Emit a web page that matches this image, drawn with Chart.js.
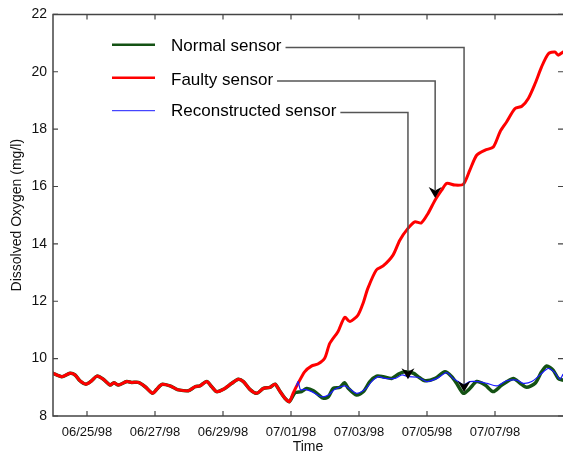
<!DOCTYPE html>
<html>
<head>
<meta charset="utf-8">
<script src="https://cdn.jsdelivr.net/npm/chart.js@4.4.1/dist/chart.umd.min.js"></script>
<style>
  html, body { margin: 0; padding: 0; background: #fff; }
  #wrap { width: 563px; height: 453px; }
</style>
</head>
<body>
<div id="wrap"><canvas id="doChart" width="563" height="453"></canvas></div>
<script>
// --- Data (time in days since 06/24/98 00:00, DO in mg/l) ---

// all three sensors agree before the fault appears
const preDays = [0, 0.26, 0.50, 0.65, 0.79, 0.97, 1.14, 1.29, 1.48, 1.68, 1.79, 1.92, 2.17, 2.31, 2.51, 2.71, 2.93, 3.05, 3.20, 3.44,
    3.59, 3.69, 3.98, 4.18, 4.32, 4.52, 4.67, 4.81, 5.01, 5.26, 5.45, 5.60, 5.79, 5.99, 6.19, 6.38, 6.53, 6.68, 6.82, 6.95];
const preDO = [9.49, 9.37, 9.49, 9.43, 9.23, 9.11, 9.23, 9.39, 9.28, 9.08, 9.16, 9.08, 9.20, 9.17, 9.17, 9.02, 8.79, 8.93, 9.10, 9.05,
    8.96, 8.91, 8.88, 9.02, 9.05, 9.20, 9.02, 8.85, 8.93, 9.14, 9.28, 9.20, 8.93, 8.79, 8.96, 9.00, 9.11, 8.85, 8.62, 8.50];

// faulty sensor drifting upward
const faultDays = [7.06, 7.21, 7.40, 7.60, 7.79, 7.99, 8.14, 8.38, 8.58, 8.73, 8.97, 9.12, 9.26, 9.51, 9.71, 10.00, 10.20, 10.44, 10.64, 10.83,
    11.03, 11.24, 11.43, 11.58, 11.82, 12.07, 12.26, 12.46, 12.71, 12.95, 13.15, 13.34, 13.59, 13.79, 13.98, 14.18, 14.37, 14.57, 14.76, 14.86, 15.0];
const faultDO = [8.79, 9.14, 9.54, 9.74, 9.81, 10.01, 10.53, 10.94, 11.44, 11.29, 11.52, 11.93, 12.45, 13.09, 13.23, 13.61, 14.13, 14.54, 14.77, 14.73,
    15.06, 15.53, 15.87, 16.11, 16.05, 16.08, 16.57, 17.09, 17.27, 17.38, 17.91, 18.25, 18.72, 18.80, 19.07, 19.59, 20.17, 20.63, 20.69, 20.58, 20.69];

// normal sensor
const normDays = [7.12, 7.31, 7.46, 7.66, 7.95, 8.10, 8.24, 8.44, 8.57, 8.69, 8.93, 9.13, 9.32, 9.52, 9.71, 9.96, 10.16, 10.35, 10.60, 10.74,
    10.94, 11.24, 11.53, 11.73, 11.87, 12.07, 12.26, 12.46, 12.71, 12.95, 13.20, 13.54, 13.74, 13.93, 14.18, 14.37, 14.52, 14.71, 14.86, 15.0];
const normDO = [8.81, 8.85, 8.96, 8.88, 8.62, 8.67, 8.96, 9.00, 9.16, 8.96, 8.73, 8.85, 9.20, 9.39, 9.37, 9.31, 9.46, 9.54, 9.49, 9.37,
    9.23, 9.31, 9.54, 9.37, 9.14, 8.79, 8.96, 9.20, 9.08, 8.85, 9.08, 9.31, 9.14, 9.00, 9.14, 9.54, 9.74, 9.60, 9.31, 9.25];

// reconstructed sensor
const reconDays = [7.16, 7.21, 7.28, 7.41, 7.61, 7.90, 8.10, 8.29, 8.59, 8.74, 8.93, 9.18, 9.37, 9.57, 9.76, 10.06, 10.26, 10.45, 10.74,
    10.99, 11.29, 11.58, 11.77, 11.92, 12.07, 12.26, 12.51, 12.76, 13.05, 13.34, 13.64, 13.83, 14.08, 14.32, 14.57, 14.76, 14.91, 15.0];
const reconDO = [9.05, 9.20, 8.91, 8.93, 8.85, 8.67, 8.73, 8.93, 9.05, 8.93, 8.79, 8.93, 9.20, 9.37, 9.31, 9.31, 9.43, 9.37, 9.35,
    9.20, 9.31, 9.51, 9.31, 9.20, 9.08, 9.20, 9.20, 9.14, 9.05, 9.23, 9.25, 9.14, 9.20, 9.43, 9.66, 9.51, 9.28, 9.45];

// axis ticks
const tickDays = [1, 3, 5, 7, 9, 11, 13];
const tickLabels = ['06/25/98', '06/27/98', '06/29/98', '07/01/98', '07/03/98', '07/05/98', '07/07/98'];
const yTicks = [8, 10, 12, 14, 16, 18, 20, 22];

// legend entries and the data points their arrows point at
const seriesNames = ['Normal sensor', 'Faulty sensor', 'Reconstructed sensor'];
const arrowDays = [12.09, 11.24, 10.44];
const arrowDO = [8.84, 15.6, 9.28];

// --- Styles ---
const FONT = "'Liberation Sans', Arial, Helvetica, sans-serif";
const colors = ['#145214', '#ff0000', '#1a1aff'];
const widths = [3, 3, 1.2];
const legendWidths = [2.5, 2.5, 1];
const legendLineY = [44.7, 77.7, 110.7];
const legendTextY = [50.7, 85, 116.3];
const leaderY = [47.5, 81, 112.5];

const toPoints = (days, vals) => days.map((d, i) => ({ x: d, y: vals[i] }));

const decorPlugin = {
    id: 'decor',
    afterDatasetsDraw(chart) {
        const ctx = chart.ctx;
        const area = chart.chartArea;
        const xs = chart.scales.x;
        const ys = chart.scales.y;

        ctx.save();
        // frame: left, bottom, top
        ctx.strokeStyle = '#444';
        ctx.lineWidth = 1.5;
        ctx.beginPath();
        ctx.moveTo(area.right, area.top);
        ctx.lineTo(area.left, area.top);
        ctx.lineTo(area.left, area.bottom);
        ctx.lineTo(area.right, area.bottom);
        ctx.stroke();

        // inward tick marks on all sides
        ctx.lineWidth = 1.2;
        ctx.beginPath();
        tickDays.forEach(d => {
            const px = xs.getPixelForValue(d);
            ctx.moveTo(px, area.bottom); ctx.lineTo(px, area.bottom - 5);
            ctx.moveTo(px, area.top); ctx.lineTo(px, area.top + 5);
        });
        yTicks.forEach(v => {
            const py = ys.getPixelForValue(v);
            ctx.moveTo(area.left, py); ctx.lineTo(area.left + 5, py);
            ctx.moveTo(area.right, py); ctx.lineTo(area.right - 5, py);
        });
        ctx.stroke();

        // legend with leader lines and arrows
        ctx.font = '17px ' + FONT;
        ctx.textBaseline = 'alphabetic';
        seriesNames.forEach((name, i) => {
            ctx.strokeStyle = colors[i];
            ctx.lineWidth = legendWidths[i];
            ctx.beginPath();
            ctx.moveTo(112, legendLineY[i]);
            ctx.lineTo(155, legendLineY[i]);
            ctx.stroke();

            ctx.fillStyle = '#000';
            ctx.fillText(name, 171, legendTextY[i]);
            const tx = 171 + ctx.measureText(name).width + 4;

            const ax = xs.getPixelForValue(arrowDays[i]);
            const ay = ys.getPixelForValue(arrowDO[i]);
            ctx.strokeStyle = '#555';
            ctx.lineWidth = 1.5;
            ctx.beginPath();
            ctx.moveTo(tx, leaderY[i]);
            ctx.lineTo(ax, leaderY[i]);
            ctx.lineTo(ax, ay - 8);
            ctx.stroke();

            ctx.fillStyle = '#000';
            ctx.beginPath();
            ctx.moveTo(ax, ay);
            ctx.lineTo(ax - 6.5, ay - 11);
            ctx.lineTo(ax, ay - 7.5);
            ctx.lineTo(ax + 6.5, ay - 11);
            ctx.closePath();
            ctx.fill();
        });
        ctx.restore();
    }
};

const init = () => {
    const ctx = document.getElementById('doChart');

    new Chart(ctx, {
        type: 'line',
        data: {
            datasets: [
                {
                    label: seriesNames[2],
                    data: toPoints(reconDays, reconDO),
                    borderColor: colors[2],
                    borderWidth: widths[2],
                    order: 1
                },
                {
                    label: seriesNames[1],
                    data: toPoints(preDays.concat(faultDays), preDO.concat(faultDO)),
                    borderColor: colors[1],
                    borderWidth: widths[1],
                    order: 2
                },
                {
                    label: seriesNames[0],
                    data: toPoints(preDays.concat(normDays), preDO.concat(normDO)),
                    borderColor: colors[0],
                    borderWidth: widths[0] + 0.5,
                    order: 3
                }
            ]
        },
        options: {
            responsive: false,
            animation: false,
            devicePixelRatio: 1,
            layout: { padding: { top: 14, right: 0, left: 0, bottom: 0 } },
            elements: {
                point: { radius: 0 },
                line: { tension: 0.25, borderCapStyle: 'round', borderJoinStyle: 'round' }
            },
            plugins: {
                legend: { display: false },
                tooltip: { enabled: false }
            },
            scales: {
                x: {
                    type: 'linear',
                    min: 0,
                    max: 15,
                    afterBuildTicks: (scale) => { scale.ticks = tickDays.map(v => ({ value: v })); },
                    afterFit: (scale) => { scale.height = 37; },
                    grid: { display: false, drawTicks: false },
                    border: { display: false },
                    ticks: {
                        autoSkip: false,
                        maxRotation: 0,
                        padding: 9,
                        color: '#111',
                        font: { family: FONT, size: 13 },
                        callback: (value) => tickLabels[tickDays.indexOf(value)]
                    },
                    title: {
                        display: true,
                        text: 'Time',
                        color: '#111',
                        font: { family: FONT, size: 14 },
                        padding: { top: 0, bottom: -3 }
                    }
                },
                y: {
                    min: 8,
                    max: 22,
                    afterBuildTicks: (scale) => { scale.ticks = yTicks.map(v => ({ value: v })); },
                    afterFit: (scale) => { scale.width = 53; },
                    grid: { display: false, drawTicks: false },
                    border: { display: false },
                    ticks: {
                        padding: 6,
                        color: '#111',
                        font: { family: FONT, size: 14 }
                    },
                    title: {
                        display: true,
                        text: 'Dissolved Oxygen (mg/l)',
                        color: '#111',
                        font: { family: FONT, size: 14 },
                        padding: { top: 9, bottom: 0 }
                    }
                }
            }
        },
        plugins: [decorPlugin]
    });
};

document.addEventListener('DOMContentLoaded', init);
</script>
</body>
</html>
